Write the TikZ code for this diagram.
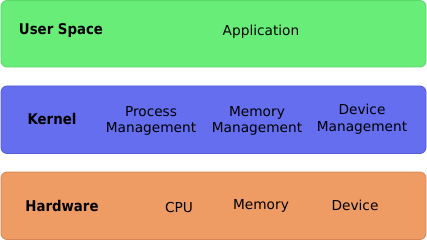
\documentclass[tikz,border=0pt]{standalone}
\usepackage{fontspec}
\setmainfont{DejaVu Sans}
\newfontfamily\titlefont{DejaVu Sans Condensed}
\usepackage{tikz}
\usetikzlibrary{positioning}

\definecolor{userfill}{RGB}{104,238,120}
\definecolor{userdraw}{RGB}{90,215,105}
\definecolor{kernfill}{RGB}{100,110,238}
\definecolor{kerndraw}{RGB}{85,95,215}
\definecolor{hardfill}{RGB}{238,155,100}
\definecolor{harddraw}{RGB}{215,135,85}

\begin{document}
\begin{tikzpicture}[
  x=1pt, y=-1pt,
  layerbox/.style={rounded corners=6pt, line width=0.8pt},
  title/.style={font=\titlefont\fontsize{14.8}{17}\selectfont\bfseries, inner sep=0pt},
  part/.style={font=\fontsize{13.7}{16.8}\selectfont, align=center, inner sep=0pt},
]
  \useasboundingbox (0,0) rectangle (427,240);

  % layers
  \draw[layerbox, fill=userfill, draw=userdraw] (1,0.5) rectangle (426,67);
  \draw[layerbox, fill=kernfill, draw=kerndraw] (1,86) rectangle (426,153.5);
  \draw[layerbox, fill=hardfill, draw=harddraw] (1,172) rectangle (426,239.5);

  % user space
  \node[title] (user) at (61,31) {User Space};
  \node[part]  (app)  at (261,31.5) {Application};

  % kernel
  \node[title] (kern) at (52,119) {Kernel};
  \node[part]  (proc) at (151,121) {Process\\Management};
  \node[part]  (mman) at (257,121) {Memory\\Management};
  \node[part]  (dman) at (362,119) {Device\\Management};

  % hardware
  \node[title] (hard) at (62,206) {Hardware};
  \node[part]  (cpu)  at (179,207.5) {CPU};
  \node[part]  (mem)  at (261,206) {Memory};
  \node[part]  (dev)  at (355,205) {Device};
\end{tikzpicture}
\end{document}
